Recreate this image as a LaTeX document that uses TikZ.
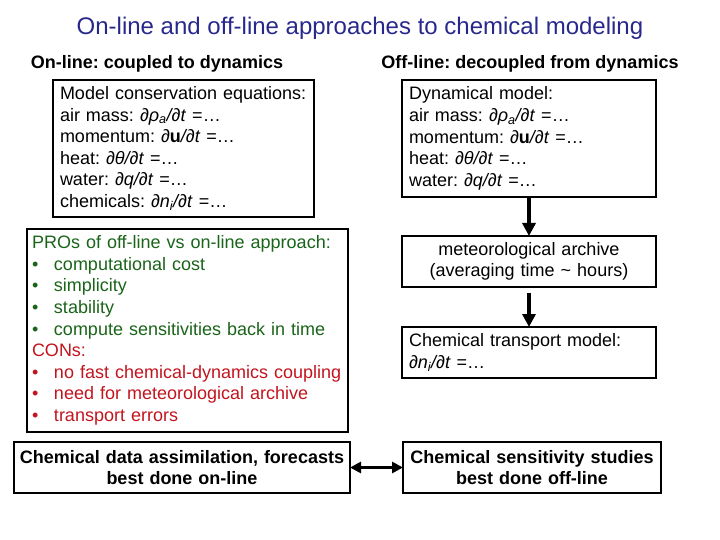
\documentclass[tikz,border=0pt]{standalone}
\usepackage{fontspec}
\setmainfont{Liberation Sans}
\usetikzlibrary{arrows.meta}
\definecolor{titleblue}{RGB}{40,40,140}
\definecolor{progreen}{RGB}{25,100,25}
\definecolor{conred}{RGB}{195,20,30}
\newcommand{\bul}[1]{\makebox[22pt][l]{•}#1}
\frenchspacing
\begin{document}
\begin{tikzpicture}[x=1pt,y=-1pt,
  box/.style={draw, line width=1.1pt, anchor=north west, inner ysep=0pt, outer sep=0pt,
    font=\fontsize{18}{21.6}\selectfont},
  head/.style={font=\fontsize{18}{21.6}\selectfont\bfseries, inner sep=0pt},
  bigarrow/.style={line width=3.5pt, -{Triangle[width=13pt,length=13pt]}},
  dblarrow/.style={line width=3pt, {Triangle[width=11pt,length=11pt]}-{Triangle[width=11pt,length=11pt]}}
]
\useasboundingbox (0,0) rectangle (720,540);

\node[font=\fontsize{24}{28}\selectfont, text=titleblue, inner sep=0pt] (title) at (360,28)
  {On-line and off-line approaches to chemical modeling};

\node[head] (hleft) at (157,64) {On-line: coupled to dynamics};
\node[head] (hright) at (530,64) {Off-line: decoupled from dynamics};

\node[box, inner xsep=7pt, minimum width=261pt, minimum height=137pt, text width=247pt, align=left] (cons) at (53,80)
  {\rule{0pt}{0pt}\raisebox{0pt}{}Model conservation equations:\\
   air mass: \textit{∂ρ\textsubscript{a}/∂t} =…\\
   momentum: \textit{∂}\textbf{u}\textit{/∂t} =…\\
   heat: \textit{∂θ/∂t} =…\\
   water: \textit{∂q/∂t} =…\\
   chemicals: \textit{∂n\textsubscript{i}/∂t} =…};

\node[box, inner xsep=7pt, minimum width=254pt, minimum height=117pt, text width=240pt, align=left] (dyn) at (402,80)
  {Dynamical model:\\
   air mass: \textit{∂ρ\textsubscript{a}/∂t} =…\\
   momentum: \textit{∂}\textbf{u}\textit{/∂t} =…\\
   heat: \textit{∂θ/∂t} =…\\
   water: \textit{∂q/∂t} =…};

\node[box, inner xsep=5pt, minimum width=321pt, minimum height=203pt, text width=311pt, align=left] (pros) at (27,229)
  {\color{progreen}PROs of off-line vs on-line approach:\\
   \color{progreen}\bul{computational cost}\\
   \color{progreen}\bul{simplicity}\\
   \color{progreen}\bul{stability}\\
   \color{progreen}\bul{compute sensitivities back in time}\\
   \color{conred}CONs:\\
   \color{conred}\bul{no fast chemical-dynamics coupling}\\
   \color{conred}\bul{need for meteorological archive}\\
   \color{conred}\bul{transport errors}};

\node[box, inner xsep=5pt, minimum width=254pt, minimum height=51pt, text width=244pt, align=center] (arch) at (402,236)
  {meteorological archive\\(averaging time \textasciitilde{} hours)};

\node[box, inner xsep=7pt, minimum width=254pt, minimum height=51pt, text width=240pt, align=left] (ctm) at (402,327)
  {Chemical transport model:\\ \textit{∂n\textsubscript{i}/∂t} =…};

\node[box, inner xsep=4pt, minimum width=336pt, minimum height=51pt, text width=328pt, align=center, font=\fontsize{18}{21.6}\selectfont\bfseries] (assim) at (14,442)
  {Chemical data assimilation, forecasts\\best done on-line};

\node[box, inner xsep=4pt, minimum width=258pt, minimum height=51pt, text width=250pt, align=center, font=\fontsize{18}{21.6}\selectfont\bfseries] (sens) at (403,442)
  {Chemical sensitivity studies\\best done off-line};

\draw[bigarrow] (dyn.south) -- (arch.north);
\draw[bigarrow, shorten <=6pt] (arch.south) -- (ctm.north);
\draw[dblarrow] (assim.east) -- (sens.west);
\end{tikzpicture}
\end{document}
